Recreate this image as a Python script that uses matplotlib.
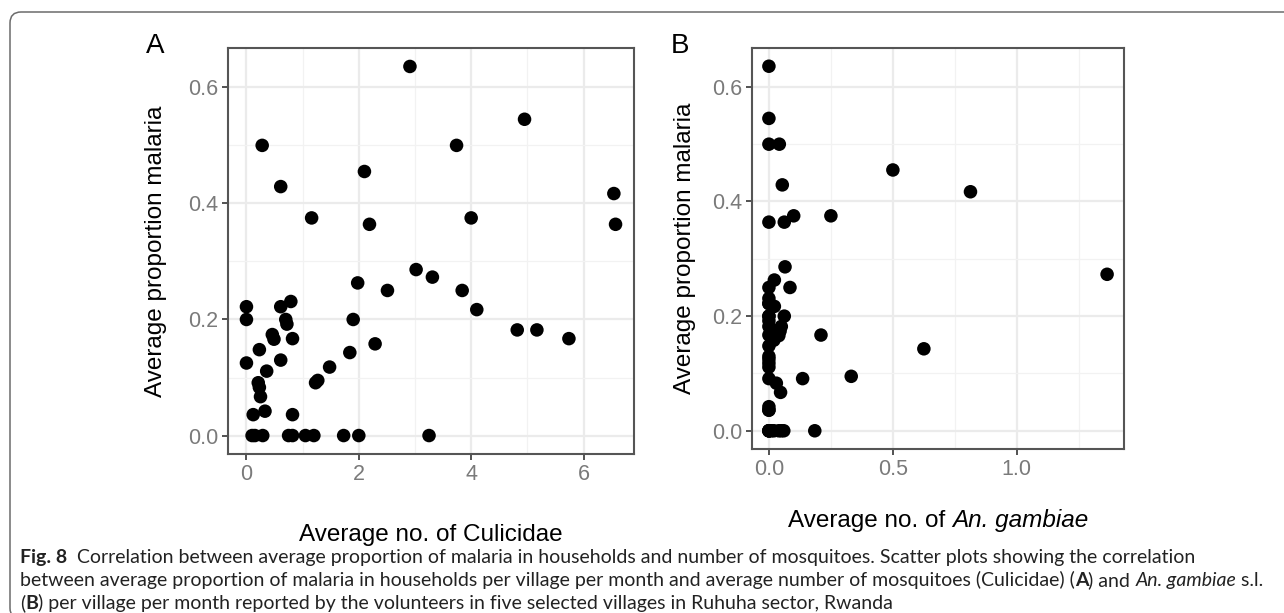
import matplotlib
matplotlib.use('Agg')
import matplotlib.pyplot as plt
from matplotlib.patches import FancyBboxPatch
from matplotlib.transforms import IdentityTransform
from matplotlib.ticker import MultipleLocator, FormatStrFormatter

## fonts
plt.rcParams['font.family'] = 'Liberation Sans'

## data: one row per village-month
malaria = [0.636, 0.545, 0.500, 0.500, 0.455, 0.429, 0.417, 0.375, 0.375, 0.364,
           0.364, 0.286, 0.273, 0.263, 0.250, 0.250, 0.217, 0.222, 0.200, 0.222,
           0.231, 0.200, 0.192, 0.200, 0.174, 0.166, 0.167, 0.182, 0.182, 0.167,
           0.148, 0.158, 0.143, 0.125, 0.130, 0.118, 0.111, 0.091, 0.095, 0.091,
           0.083, 0.067, 0.042, 0.036, 0.036,
           0.0, 0.0, 0.0, 0.0, 0.0, 0.0, 0.0, 0.0, 0.0, 0.0]

culicidae = [2.91, 4.95, 0.28, 3.74, 2.10, 0.61, 6.54, 1.16, 4.00, 2.19,
             6.57, 3.02, 3.31, 1.98, 2.51, 3.84, 4.10, 0.00, 0.00, 0.61,
             0.79, 0.70, 0.72, 1.90, 0.46, 0.49, 0.82, 4.82, 5.17, 5.74,
             0.23, 2.29, 1.84, 0.00, 0.61, 1.48, 0.36, 1.23, 1.27, 0.21,
             0.23, 0.25, 0.33, 0.12, 0.82,
             0.10, 0.15, 0.29, 0.75, 0.82, 1.05, 1.20, 1.73, 2.00, 3.25]

gambiae = [0.0, 0.0, 0.0, 0.042, 0.50, 0.054, 0.813, 0.10, 0.25, 0.0,
           0.062, 0.065, 1.364, 0.022, 0.085, 0.0, 0.022, 0.0, 0.0, 0.0,
           0.0, 0.062, 0.0, 0.0, 0.045, 0.04, 0.21, 0.05, 0.0, 0.0,
           0.0, 0.02, 0.625, 0.0, 0.0, 0.0, 0.0, 0.136, 0.332, 0.0,
           0.03, 0.047, 0.0, 0.0, 0.0,
           0.0, 0.0, 0.0, 0.01, 0.02, 0.04, 0.05, 0.06, 0.185, 0.0]

## caption pieces: (text, weight, style)
caption = [
    [("Fig. 8", "bold", "normal"),
     ("  Correlation between average proportion of malaria in households and number of mosquitoes. "
      "Scatter plots showing the correlation", "normal", "normal")],
    [("between average proportion of malaria in households per village per month and average number "
      "of mosquitoes (Culicidae) (", "normal", "normal"),
     ("A", "bold", "normal"), (") and ", "normal", "normal"),
     ("An. gambiae", "normal", "italic"), (" s.l.", "normal", "normal")],
    [("(", "normal", "normal"), ("B", "bold", "normal"),
     (") per village per month reported by the volunteers in five selected villages in Ruhuha sector, Rwanda",
      "normal", "normal")],
]

W, H = 1284, 613
fig = plt.figure(figsize=(W / 100, H / 100), dpi=100)


def px(x, y):
    ## pixel (from top-left) -> figure fraction
    return x / W, 1 - y / H


def add_panel(left, top, right, bottom, x, y, xmajor, xfmt):
    l, t = px(left, top)
    r, b = px(right, bottom)
    ax = fig.add_axes([l, b, r - l, t - b])
    ax.scatter(x, y, s=95, color='black', edgecolors='none', zorder=3)

    ## ggplot style 5% expansion
    xr = max(x) - min(x)
    yr = max(y) - min(y)
    ax.set_xlim(min(x) - 0.05 * xr, max(x) + 0.05 * xr)
    ax.set_ylim(min(y) - 0.05 * yr, max(y) + 0.05 * yr)

    ax.xaxis.set_major_locator(MultipleLocator(xmajor))
    ax.xaxis.set_minor_locator(MultipleLocator(xmajor / 2))
    ax.yaxis.set_major_locator(MultipleLocator(0.2))
    ax.yaxis.set_minor_locator(MultipleLocator(0.1))
    ax.xaxis.set_major_formatter(FormatStrFormatter(xfmt))
    ax.yaxis.set_major_formatter(FormatStrFormatter('%.1f'))

    ax.grid(which='major', color='#EBEBEB', lw=1.6, zorder=0)
    ax.grid(which='minor', color='#F2F2F2', lw=0.9, zorder=0)
    ax.set_axisbelow(True)

    for sp in ax.spines.values():
        sp.set_color('#555555')
        sp.set_linewidth(1.5)

    ax.tick_params(which='major', length=4.5, width=1.3, color='#444444',
                   labelsize=15.5, labelcolor='#7a7a7a', pad=2.5)
    ax.tick_params(which='minor', length=0)
    return ax


axA = add_panel(228, 48, 634, 454, culicidae, malaria, 2, '%d')
axB = add_panel(752, 48, 1124, 449, gambiae, malaria, 0.5, '%.1f')


def chain(first, pieces, **kw):
    ## put text pieces one after the other on the same line
    prev = first
    out = [first]
    for txt, weight, style in pieces:
        prev = fig.add_artist(matplotlib.text.Annotation(
            txt, xy=(1, 0), xycoords=prev, ha='left', va='bottom',
            weight=weight, style=style, **kw))
        out.append(prev)
    return out


## axis titles and panel tags
fig.text(*px(156, 251), 'Average proportion malaria', rotation=90,
         ha='center', va='center', fontsize=17.5)
fig.text(*px(685, 248), 'Average proportion malaria', rotation=90,
         ha='center', va='center', fontsize=17.5)
fig.text(*px(431, 535), 'Average no. of Culicidae', ha='center', va='center', fontsize=17.5)
fig.text(*px(146, 53), 'A', ha='left', va='baseline', fontsize=20)
fig.text(*px(671, 53), 'B', ha='left', va='baseline', fontsize=20)

## x title of panel B: upright + italic, centred on the panel
xb = fig.text(*px(0, 521), 'Average no. of ', ha='left', va='center', fontsize=17.5)
xb_parts = chain(xb, [('An. gambiae', 'normal', 'italic')], fontsize=17.5)
renderer = fig.canvas.get_renderer()
total = sum(p.get_window_extent(renderer).width for p in xb_parts)
xb.set_x((938 - total / 2) / W)

## caption
cap_kw = dict(family='Lato', fontsize=14, color='#222222')
bottoms = [566, 589, 612]
for line, base in zip(caption, bottoms):
    txt, weight, style = line[0]
    first = fig.text(*px(20, base), txt, ha='left', va='bottom',
                     weight=weight, style=style, **cap_kw)
    chain(first, line[1:], **cap_kw)

## frame round the figure (only top and left visible)
frame = FancyBboxPatch((10, -6), 1400, 613 - 10 + 6 - 2,
                       boxstyle='round,pad=0,rounding_size=11',
                       transform=IdentityTransform(), fill=False,
                       edgecolor='#6b6b6b', lw=1.1)
fig.add_artist(frame)

fig.savefig('out.png', dpi=100)
